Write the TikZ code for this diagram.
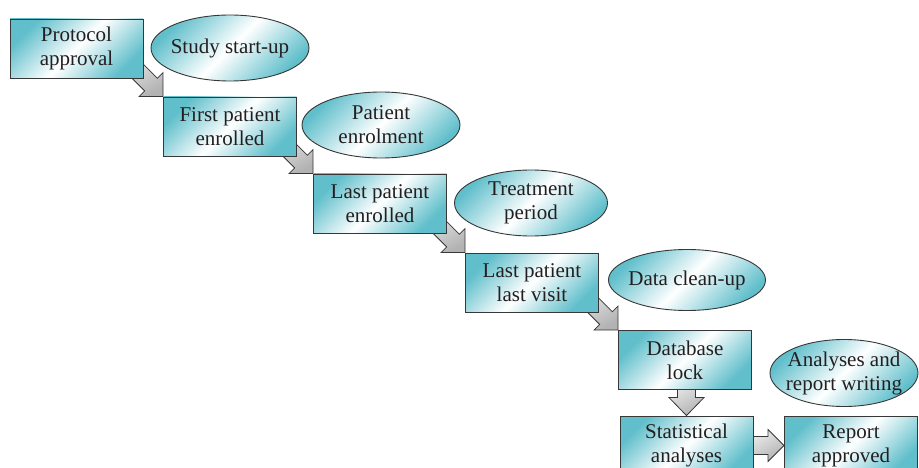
\documentclass[tikz,border=0pt]{standalone}
\usepackage{fontspec}
\setmainfont{Liberation Serif}
\usetikzlibrary{shapes.geometric,backgrounds,calc}
\definecolor{phasecolor}{RGB}{96,191,203}
\definecolor{edgecolor}{RGB}{55,55,55}
\definecolor{inkcolor}{RGB}{35,31,32}
\tikzset{
  milestone/.style={draw=edgecolor, line width=0.9pt, top color=phasecolor, bottom color=phasecolor, middle color=white, shading angle=45, minimum width=133pt, minimum height=59pt, inner sep=0pt, align=center, text=inkcolor, font=\fontsize{21}{24}\selectfont},
  phase/.style={ellipse, draw=edgecolor, line width=0.9pt, top color=phasecolor, bottom color=phasecolor, middle color=white, shading angle=45, minimum width=158pt, minimum height=66pt, inner xsep=-14pt, inner ysep=0pt, align=center, text=inkcolor, font=\fontsize{21}{24}\selectfont},
  blockarrow/.style={draw=edgecolor, line width=0.8pt, left color=gray!12, right color=gray!60, shading angle=30}
}

\begin{document}
\begin{tikzpicture}[x=1pt,y=1pt]
    \useasboundingbox (0,0) rectangle (919,-468);

    % Milestones
    \node[milestone] (protocol) at (76.5,-48.5) {Protocol\\approval};
    \node[milestone] (first) at (230,-126.5) {First patient\\enrolled};
    \node[milestone] (lastenrol) at (380,-203.5) {Last patient\\enrolled};
    \node[milestone] (lastvisit) at (532,-282.5) {Last patient\\last visit};
    \node[milestone] (dblock) at (685,-360) {Database\\lock};
    \node[milestone] (stats) at (686.5,-445.5) {Statistical\\analyses};
    \node[milestone] (report) at (851,-445.5) {Report\\approved};

    % Phases
    \node[phase] (startup) at (230,-48) {Study start-up};
    \node[phase, minimum width=158pt] (enrolment) at (381,-125) {Patient\\enrolment};
    \node[phase, minimum width=153pt] (treatment) at (531,-203) {Treatment\\period};
    \node[phase, minimum width=157pt, minimum height=61pt] (cleanup) at (687,-280) {Data clean-up};
    \node[phase, minimum width=148pt, minimum height=67pt] (writing) at (844,-373) {Analyses and\\report writing};

    % Arrows between milestones
    \begin{scope}[on background layer]
        \foreach \dst in {first,lastenrol,lastvisit,dblock} {
            \draw[blockarrow] (\dst.north west) -- ++(-24,0) -- ++(5.6,5.6) -- ++(-28,28)
                -- ++(12.7,12.7) -- ++(28,-28) -- ++(5.6,5.6) -- cycle;
        }
        \draw[blockarrow] (stats.north) -- ++(-17.5,18) -- ++(8.5,0) -- ++(0,20)
            -- ++(18,0) -- ++(0,-20) -- ++(8.5,0) -- cycle;
        \draw[blockarrow] (report.west) -- ++(-16,16) -- ++(0,-7) -- ++(-24,0)
            -- ++(0,-18) -- ++(24,0) -- ++(0,-7) -- cycle;
    \end{scope}
\end{tikzpicture}
\end{document}
